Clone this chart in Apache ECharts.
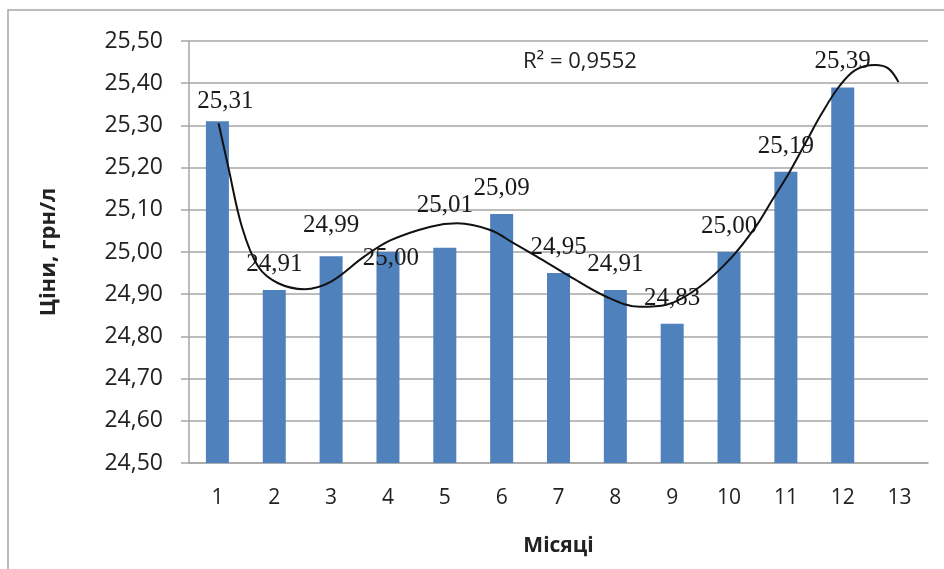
<!DOCTYPE html>
<html><head><meta charset="utf-8">
<script src="https://cdn.jsdelivr.net/npm/echarts@6/dist/echarts.min.js"></script>
<style>html,body{margin:0;padding:0;background:#fff}#c{width:944px;height:569px}</style>
</head><body><div id="c"></div>
<script>
const months = ['1','2','3','4','5','6','7','8','9','10','11','12','13'];
const prices = [25.31, 24.91, 24.99, 25.00, 25.01, 25.09, 24.95, 24.91, 24.83, 25.00, 25.19, 25.39, null];
const trendMonth = [1.02,1.19,1.43,1.72,2.07,2.53,3.00,3.58,4.05,4.75,5.22,5.80,6.21,6.62,7.20,7.84,8.43,8.90,9.48,10.05,10.47,10.76,11.05,11.34,11.63,11.93,12.22,12.57,12.80,12.98];
const trendPrice = [25.305,25.202,25.060,24.965,24.926,24.912,24.930,24.989,25.028,25.060,25.068,25.052,25.021,24.989,24.942,24.894,24.870,24.875,24.917,24.988,25.060,25.123,25.186,25.257,25.328,25.391,25.431,25.443,25.435,25.403];
const r2Text = 'R² = 0,9552';
const yTitle = 'Ціни, грн/л';
const xTitle = 'Місяці';
// label nudges (style only) [dx, dy]
const labelShift = [[8,6],[0,0],[0,-5],[3,32],[0,-17],[0,0],[0,0],[0,0],[0,0],[0,0],[0,0],[0,0],[0,0]];

const fmt = v => v.toFixed(2).replace('.', ',');
const chart = echarts.init(document.getElementById('c'));
const gridColor = '#a6a6a6';
chart.setOption({
  animation: false,
  backgroundColor: '#fff',
  grid: { left: 189, right: 16, top: 41, bottom: 106 },
  xAxis: [{
    type: 'category', data: months,
    axisLine: { show: true, lineStyle: { color: gridColor, width: 1.5 } },
    axisTick: { show: false },
    axisLabel: { margin: 25, fontFamily: 'Open Sans', fontSize: 21, color: '#222' },
    name: xTitle, nameLocation: 'middle', nameGap: 73,
    nameTextStyle: { fontFamily: 'Open Sans', fontWeight: 'bold', fontSize: 21, color: '#222' }
  }, {
    type: 'value', min: 0.5, max: 13.5, show: false
  }],
  yAxis: {
    type: 'value', min: 24.5, max: 25.5, interval: 0.1,
    axisLine: { show: true, lineStyle: { color: gridColor, width: 1.5 } },
    axisTick: { show: true, length: 8, lineStyle: { color: gridColor, width: 1.5 } },
    splitLine: { lineStyle: { color: gridColor, width: 1.5 } },
    axisLabel: { margin: 26, fontFamily: 'Open Sans', fontSize: 23, color: '#222', formatter: v => fmt(v) },
    name: yTitle, nameLocation: 'middle', nameGap: 129, nameRotate: 90,
    nameTextStyle: { fontFamily: 'Open Sans', fontWeight: 'bold', fontSize: 22, color: '#222' }
  },
  series: [{
    type: 'bar', barWidth: 23,
    itemStyle: { color: '#4f81bd' },
    data: prices.map((v, i) => ({
      value: v,
      label: { offset: labelShift[i] }
    })),
    label: {
      show: true, position: 'top', distance: 13,
      fontFamily: 'Liberation Serif', fontSize: 25, color: '#1a1a1a',
      formatter: p => p.value == null ? '' : fmt(p.value)
    }
  }, {
    type: 'line', xAxisIndex: 1, smooth: 0.35, symbol: 'none',
    lineStyle: { color: '#111', width: 2 },
    data: trendMonth.map((m, i) => [m, trendPrice[i]]),
    z: 5
  }],
  graphic: [{
    type: 'rect', shape: { x: 8, y: 10, width: 1000, height: 1000 },
    style: { fill: 'none', stroke: gridColor, lineWidth: 1.5 }, silent: true
  }, {
    type: 'text', x: 523, y: 62,
    style: { text: r2Text, fontFamily: 'Open Sans', fontSize: 22, fill: '#222', verticalAlign: 'middle' }
  }]
});
</script></body></html>
